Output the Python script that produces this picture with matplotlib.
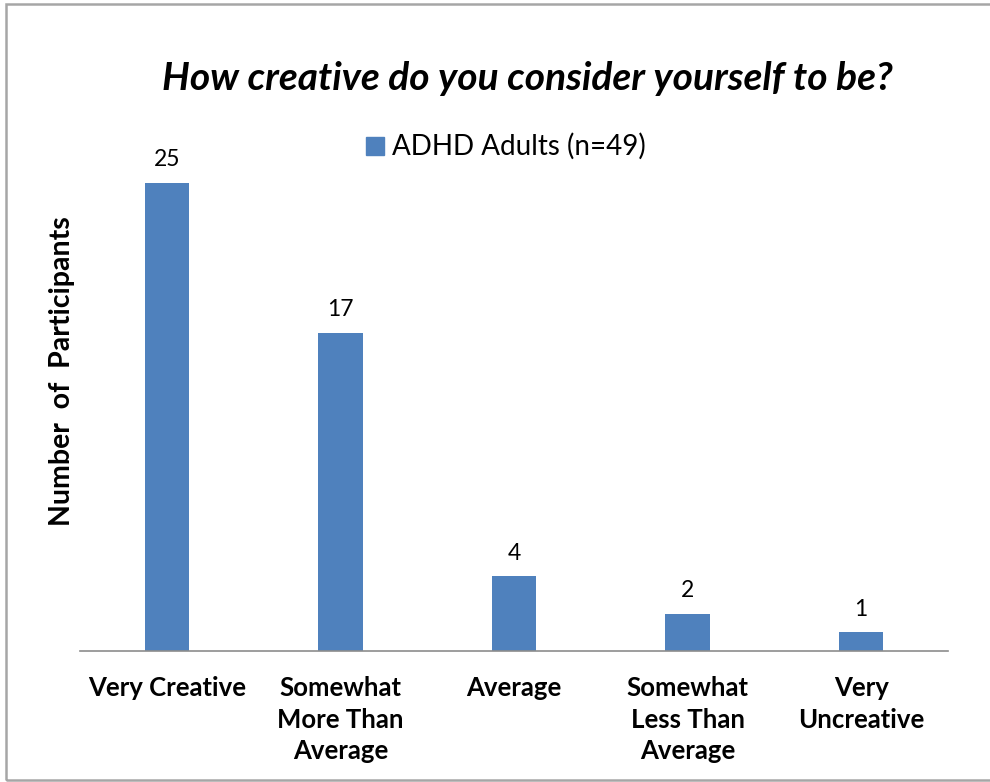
import matplotlib
matplotlib.use('Agg')
import matplotlib.pyplot as plt
from matplotlib.patches import Rectangle

categories = ['Very Creative', 'Somewhat\nMore Than\nAverage', 'Average',
              'Somewhat\nLess Than\nAverage', 'Very\nUncreative']
counts = [25, 17, 4, 2, 1]
series_name = 'ADHD Adults (n=49)'
bar_color = '#4F81BD'

plt.rcParams['font.family'] = ['Lato', 'DejaVu Sans']

W, H = 990, 782
fig = plt.figure(figsize=(W / 100, H / 100), dpi=100)
fig.patch.set_facecolor('white')

# chart frame (right edge runs past the canvas)
fig.patches.append(Rectangle((6 / W, 2 / H), (W + 10) / W, (H - 6) / H,
                             transform=fig.transFigure, fill=False,
                             edgecolor='#a6a6a6', linewidth=1.8))

ax = fig.add_axes([80 / W, 131 / H, 868 / W, 561.6 / H])
x = list(range(len(categories)))
bars = ax.bar(x, counts, width=0.255, color=bar_color)
ax.set_xlim(-0.5, 4.5)
ax.set_ylim(0, 30)

for s in ['top', 'right', 'left']:
    ax.spines[s].set_visible(False)
ax.spines['bottom'].set_color('#8c8c8c')
ax.spines['bottom'].set_linewidth(1.2)
ax.set_yticks([])
ax.set_xticks(x)
ax.set_xticklabels(categories, fontsize=18.5, fontweight='bold', linespacing=1.38)
ax.tick_params(axis='x', length=0, pad=18)

for b, v in zip(bars, counts):
    ax.annotate(str(v), (b.get_x() + b.get_width() / 2, v), xytext=(0, 9),
                textcoords='offset points', ha='center', va='bottom', fontsize=16.5)

fig.text(527 / W, 1 - 78 / H, 'How creative do you consider yourself to be?',
         ha='center', va='center', fontsize=28, fontweight='bold', fontstyle='italic')

fig.text(62 / W, 1 - 371 / H, 'Number  of  Participants', rotation=90,
         ha='center', va='center', fontsize=20.5, fontweight='bold')

# legend
fig.patches.append(Rectangle((366 / W, 1 - 155 / H), 18 / W, 18 / H,
                             transform=fig.transFigure, color=bar_color))
fig.text(392 / W, 1 - 146 / H, series_name, ha='left', va='center', fontsize=20)

fig.savefig('out.png', dpi=100)
